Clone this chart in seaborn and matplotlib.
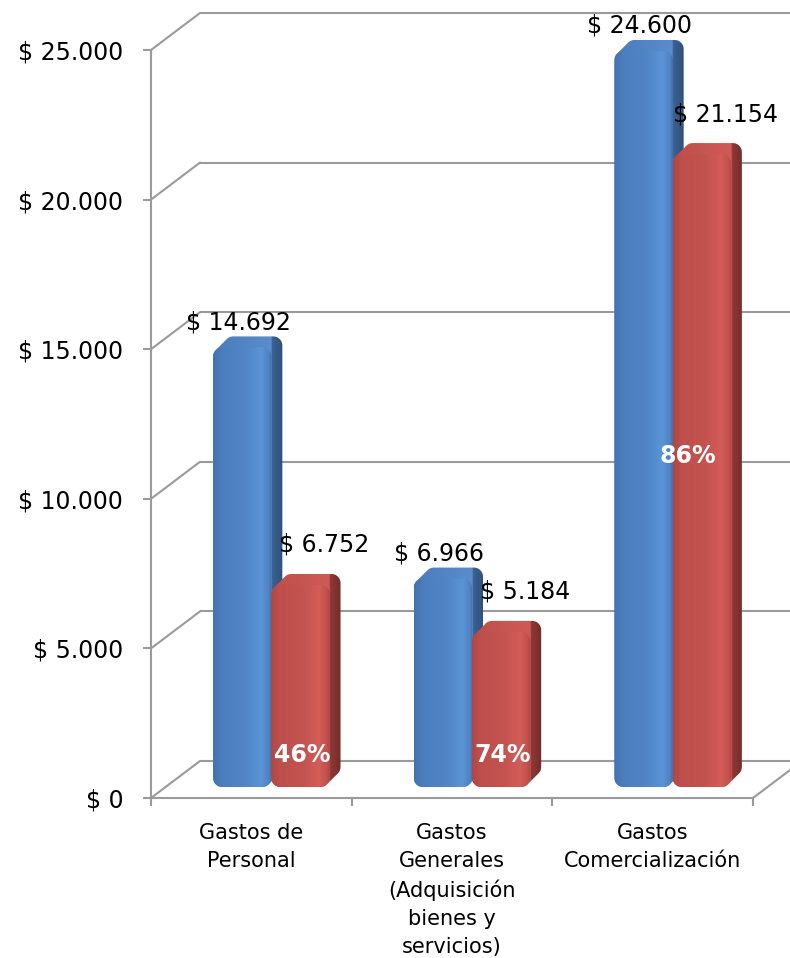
import numpy as np
import pandas as pd
import matplotlib
matplotlib.use("Agg")
import matplotlib.pyplot as plt
from matplotlib.patches import Polygon
from matplotlib.ticker import FuncFormatter
from matplotlib.colors import to_rgb
import seaborn as sns

# ---- datos ----
categorias = [
    "Gastos de\nPersonal",
    "Gastos\nGenerales\n(Adquisición\nbienes y\nservicios)",
    "Gastos\nComercialización",
]
presupuesto = [14692, 6966, 24600]
ejecutado = [6752, 5184, 21154]
series = ["Presupuesto", "Ejecutado"]
y_ticks = [0, 5000, 10000, 15000, 20000, 25000]
pos_pct = ["base", "base", "centro"]

df = pd.DataFrame({
    "categoria": categorias * 2,
    "serie": [series[0]] * len(categorias) + [series[1]] * len(categorias),
    "monto": presupuesto + ejecutado,
})
pct = [round(e / p * 100) for e, p in zip(ejecutado, presupuesto)]

AZUL = "#4F81BD"
ROJO = "#C0504D"
GRIS = "#9A9A9A"


def pesos(v):
    return "$ " + f"{int(v):,}".replace(",", ".")


sns.set_theme(style="white")
plt.rcParams["font.family"] = ["DejaVu Sans"]

W, H = 790, 958
fig = plt.figure(figsize=(W / 100, H / 100), dpi=100)

# front plane of the 3-D box (pixel edges)
L, R, B, T = 151, 753, 160, 908
axf = fig.add_axes([L / W, B / H, (R - L) / W, (T - B) / H], zorder=0)
# overlay in pixel units for walls and bar solids
ov = fig.add_axes([0, 0, 1, 1], zorder=1)
# plane where the bars stand, pushed a little into depth
DXB, DYB = 20, 11
ax = fig.add_axes([(L + DXB) / W, (B + DYB) / H, (R - L) / W, (T - B) / H], zorder=2)

# ---- front axes: ticks and labels ----
axf.set_xlim(-0.5, 2.5)
axf.set_ylim(0, 25000)
axf.patch.set_visible(False)
for s in ["top", "right"]:
    axf.spines[s].set_visible(False)
for s in ["left", "bottom"]:
    axf.spines[s].set_color(GRIS)
    axf.spines[s].set_linewidth(1.5)
axf.set_yticks(y_ticks)
axf.yaxis.set_major_formatter(FuncFormatter(lambda v, _: pesos(v)))
axf.set_xticks([-0.5, 0.5, 1.5, 2.5])
axf.set_xticklabels([])
axf.set_xticks([0, 1, 2], labels=categorias, minor=True)
axf.tick_params(axis="y", left=True, direction="out", length=6, width=1.5,
                color=GRIS, labelsize=17, pad=14, labelcolor="black")
axf.tick_params(axis="x", which="major", bottom=True, direction="out", length=6,
                width=1.5, color=GRIS)
axf.tick_params(axis="x", which="minor", bottom=True, length=0, labelsize=15,
                pad=18, labelcolor="black")
for t in axf.get_xticklabels(minor=True):
    t.set_linespacing(1.5)

# ---- bars from seaborn ----
sns.barplot(data=df, x="categoria", y="monto", hue="serie", palette=[AZUL, ROJO],
            width=0.58, saturation=1, errorbar=None, legend=False, ax=ax)
ax.set_xlim(-0.5, 2.5)
ax.set_ylim(0, 25000)
ax.axis("off")

# ---- walls of the box ----
OFFX, OFFY = 49, 37
to_px = axf.transData.transform
for v in y_ticks:
    a = to_px((-0.5, v))
    b = to_px((2.5, v))
    ov.plot([a[0] + OFFX, b[0] + OFFX], [a[1] + OFFY, b[1] + OFFY],
            color=GRIS, lw=1.5, zorder=1, solid_capstyle="butt")
    ov.plot([a[0], a[0] + OFFX], [a[1], a[1] + OFFY], color=GRIS, lw=1.5, zorder=1)
c = to_px((2.5, 0))
ov.plot([c[0], c[0] + OFFX], [c[1], c[1] + OFFY], color=GRIS, lw=1.5, zorder=1)


def rrect(x0, y0, x1, y1, r, n=12):
    pts = []
    for cx, cy, a0, a1 in [(x1 - r, y0 + r, -90, 0), (x1 - r, y1 - r, 0, 90),
                           (x0 + r, y1 - r, 90, 180), (x0 + r, y0 + r, 180, 270)]:
        ang = np.radians(np.linspace(a0, a1, n))
        pts += list(zip(cx + r * np.cos(ang), cy + r * np.sin(ang)))
    return np.array(pts)


def hull(pts):
    pts = sorted(map(tuple, pts))

    def cross(o, a, b):
        return (a[0] - o[0]) * (b[1] - o[1]) - (a[1] - o[1]) * (b[0] - o[0])

    lower, upper = [], []
    for p in pts:
        while len(lower) >= 2 and cross(lower[-2], lower[-1], p) <= 0:
            lower.pop()
        lower.append(p)
    for p in reversed(pts):
        while len(upper) >= 2 and cross(upper[-2], upper[-1], p) <= 0:
            upper.pop()
        upper.append(p)
    return np.array(lower[:-1] + upper[:-1])


def strip(xstops, colors, xa, xb, n=240):
    xs = np.linspace(xa, xb, n)
    rgb = np.array([to_rgb(col) for col in colors])
    arr = np.stack([np.interp(xs, xstops, rgb[:, k]) for k in range(3)], axis=-1)
    return arr[None, :, :]


shades = {
    AZUL: dict(front=["#4372B0", "#4C7EBD", "#5085C6", "#5B94D6", "#4F83C3", "#3F6AA3"],
               top=["#4B7BBA", "#5A8DCB"], side=["#3B6192", "#30507A"]),
    ROJO: dict(front=["#B04744", "#BE4F4C", "#C4534F", "#D25D59", "#C2504D", "#A94341"],
               top=["#BD4E4B", "#CF5B57"], side=["#8E3836", "#742C2A"]),
}
fracs = [0.0, 0.15, 0.55, 0.82, 0.95, 1.0]
RAD, DEP = 9, 11

z = 2
for cont, col in zip(ax.containers, [AZUL, ROJO]):
    for rect in cont:
        x0, y0 = rect.get_xy()
        w, h = rect.get_width(), rect.get_height()
        (px0, py0), (px1, py1) = ax.transData.transform([(x0, y0), (x0 + w, y0 + h)])
        rect.set_visible(False)
        sh = shades[col]
        front = rrect(px0, py0, px1, py1, RAD)
        solid = hull(np.vstack([front, front + [DEP, DEP]]))
        clip = Polygon(solid, closed=True, facecolor="none", edgecolor="none",
                       transform=ov.transData)
        ov.add_patch(clip)
        img = strip([px0, px1 - 0.5, px1 + 0.5, px1 + DEP],
                    sh["top"] + sh["side"], px0, px1 + DEP)
        im = ov.imshow(img, extent=[px0, px1 + DEP, py0, py1 + DEP], origin="lower",
                       aspect="auto", interpolation="bilinear", zorder=z)
        im.set_clip_path(clip)
        fclip = Polygon(front, closed=True, facecolor="none", edgecolor="none",
                        transform=ov.transData)
        ov.add_patch(fclip)
        img = strip([px0 + f * (px1 - px0) for f in fracs], sh["front"], px0, px1)
        im = ov.imshow(img, extent=[px0, px1, py0, py1], origin="lower",
                       aspect="auto", interpolation="bilinear", zorder=z + 0.5)
        im.set_clip_path(fclip)
        z += 1

ov.set_xlim(0, W)
ov.set_ylim(0, H)
ov.axis("off")

# ---- labels ----
blue_bars, red_bars = ax.containers[0], ax.containers[1]
for rect, v in zip(blue_bars, presupuesto):
    cx = rect.get_x() + rect.get_width() / 2
    ax.annotate(pesos(v), xy=(cx, v), xytext=(-4, 25), textcoords="offset pixels",
                ha="center", va="center", fontsize=17, color="black")
for rect, v, p, where in zip(red_bars, ejecutado, pct, pos_pct):
    cx = rect.get_x() + rect.get_width() / 2
    ax.annotate(pesos(v), xy=(cx, v), xytext=(24, 40), textcoords="offset pixels",
                ha="center", va="center", fontsize=17, color="black")
    if where == "base":
        ax.annotate(f"{p}%", xy=(cx, 0), xytext=(2, 32), textcoords="offset pixels",
                    ha="center", va="center", fontsize=17, fontweight="bold",
                    color="white")
    else:
        ax.annotate(f"{p}%", xy=(cx, v / 2), xytext=(-14, 15), textcoords="offset pixels",
                    ha="center", va="center", fontsize=17, fontweight="bold",
                    color="white")

fig.savefig("out.png", dpi=100)
